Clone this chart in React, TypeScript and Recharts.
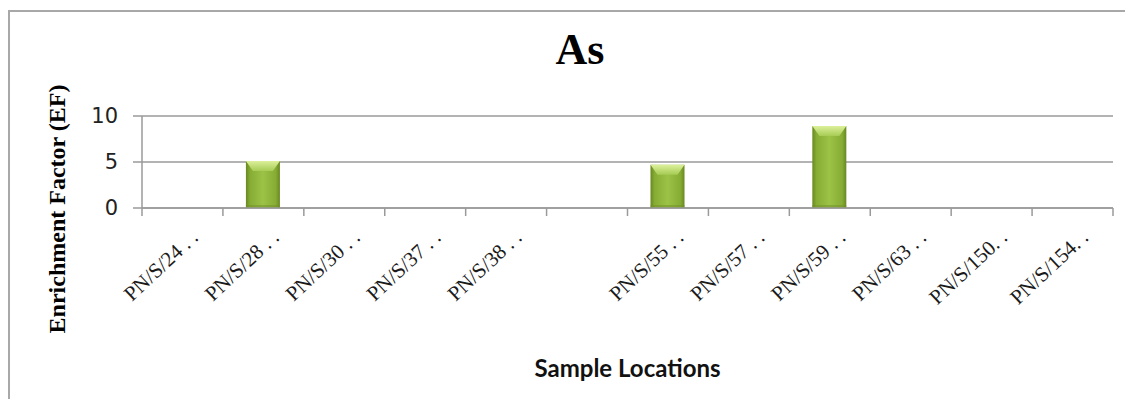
import React from "react";
import { BarChart, Bar, XAxis, YAxis, CartesianGrid, Label } from "recharts";

const categories = [
  "PN/S/24 . .",
  "PN/S/28 . .",
  "PN/S/30 . .",
  "PN/S/37 . .",
  "PN/S/38 . .",
  "",
  "PN/S/55 . .",
  "PN/S/57 . .",
  "PN/S/59 . .",
  "PN/S/63 . .",
  "PN/S/150. .",
  "PN/S/154. .",
];
const efValues = [0, 5.1, 0, 0, 0, 0, 4.7, 0, 8.9, 0, 0, 0];
const yTicks = [0, 5, 10];

const data = categories.map((c, i) => ({ name: c, ef: efValues[i] }));

const AXIS_GRAY = "#9a9a9a";

const XTick = (props: any) => {
  const { x, y, payload, index, width } = props;
  const half =
    payload && typeof payload.offset === "number" && payload.offset > 0
      ? payload.offset
      : width / categories.length / 2;
  const last = index === categories.length - 1;
  return (
    <g>
      <line x1={x - half} x2={x - half} y1={y} y2={y + 8} stroke={AXIS_GRAY} strokeWidth={1.5} />
      {last && (
        <line x1={x + half} x2={x + half} y1={y} y2={y + 8} stroke={AXIS_GRAY} strokeWidth={1.5} />
      )}
      <text
        x={0}
        y={0}
        transform={`translate(${x + 17},${y + 31}) rotate(-43)`}
        textAnchor="end"
        fontFamily="'Liberation Serif', serif"
        fontSize={21}
        fill="#1a1a1a"
      >
        {payload.value}
      </text>
    </g>
  );
};

const BevelBar = (props: any) => {
  const { x, y, width, height } = props;
  if (!height || height <= 0) return null;
  const cap = Math.min(10, height / 2);
  return (
    <g>
      <rect x={x} y={y} width={width} height={height} fill="url(#barBody)" />
      <polygon
        points={`${x},${y} ${x + width},${y} ${x + width - 7},${y + cap} ${x + 7},${y + cap}`}
        fill="url(#barCap)"
      />
      <rect x={x} y={y + height - 3} width={width} height={3} fill="#6f8f26" opacity={0.5} />
    </g>
  );
};

export default function App() {
  return (
    <div style={{ position: "relative", width: 1125, height: 391, overflow: "hidden" }}>
      <div
        style={{
          position: "absolute",
          left: 0,
          top: 2,
          width: 1300,
          height: 500,
          borderLeft: "2px solid #a8a8a8",
          borderTop: "2px solid #a8a8a8",
        }}
      />
      <svg
        width={1125}
        height={80}
        style={{ position: "absolute", left: 0, top: 0, pointerEvents: "none" }}
      >
        <text
          x={572}
          y={56}
          textAnchor="middle"
          fontFamily="'Liberation Serif', serif"
          fontWeight="bold"
          fontSize={44}
          fill="#000"
        >
          As
        </text>
      </svg>
      <div style={{ position: "absolute", left: 0, top: 0 }}>
        <BarChart
          width={1125}
          height={391}
          data={data}
          margin={{ top: 108, right: 20, left: 0, bottom: 0 }}
        >
          <defs>
            <linearGradient id="barBody" x1="0" y1="0" x2="1" y2="0">
              <stop offset="0%" stopColor="#688820" />
              <stop offset="12%" stopColor="#86ac34" />
              <stop offset="50%" stopColor="#9cc346" />
              <stop offset="88%" stopColor="#86ac34" />
              <stop offset="100%" stopColor="#688820" />
            </linearGradient>
            <linearGradient id="barCap" x1="0" y1="0" x2="0" y2="1">
              <stop offset="0%" stopColor="#dcf09a" />
              <stop offset="100%" stopColor="#a6cb54" />
            </linearGradient>
          </defs>
          <CartesianGrid horizontal vertical={false} stroke={AXIS_GRAY} strokeWidth={1.5} />
          <XAxis
            dataKey="name"
            height={191}
            interval={0}
            tickSize={0}
            tickMargin={0}
            tickLine={false}
            axisLine={{ stroke: AXIS_GRAY, strokeWidth: 1.5 }}
            tick={<XTick />}
          >
            <Label
              content={(p: any) => {
                const vb = p.viewBox;
                return (
                  <text
                    x={vb.x + vb.width / 2}
                    y={vb.y + 169}
                    textAnchor="middle"
                    fontFamily="Lato, 'Open Sans', sans-serif"
                    fontWeight="bold"
                    fontSize={24}
                    fill="#111"
                  >
                    Sample Locations
                  </text>
                );
              }}
            />
          </XAxis>
          <YAxis
            width={134}
            domain={[0, 10]}
            ticks={yTicks}
            interval={0}
            tickSize={9}
            tickMargin={15}
            tickLine={{ stroke: AXIS_GRAY, strokeWidth: 1.5 }}
            axisLine={{ stroke: AXIS_GRAY, strokeWidth: 1.5 }}
            tick={{ fontFamily: "'DejaVu Sans', sans-serif", fontSize: 21, fill: "#222" }}
          >
            <Label
              content={(p: any) => {
                const vb = p.viewBox;
                const cx = vb.x + 49;
                const cy = vb.y + vb.height / 2 + 47;
                return (
                  <text
                    x={cx}
                    y={cy}
                    transform={`rotate(-90, ${cx}, ${cy})`}
                    textAnchor="middle"
                    dominantBaseline="central"
                    fontFamily="'Liberation Serif', serif"
                    fontWeight="bold"
                    fontSize={24}
                    fill="#000"
                  >
                    Enrichment Factor (EF)
                  </text>
                );
              }}
            />
          </YAxis>
          <Bar dataKey="ef" barSize={34} isAnimationActive={false} shape={<BevelBar />} />
        </BarChart>
      </div>
    </div>
  );
}
